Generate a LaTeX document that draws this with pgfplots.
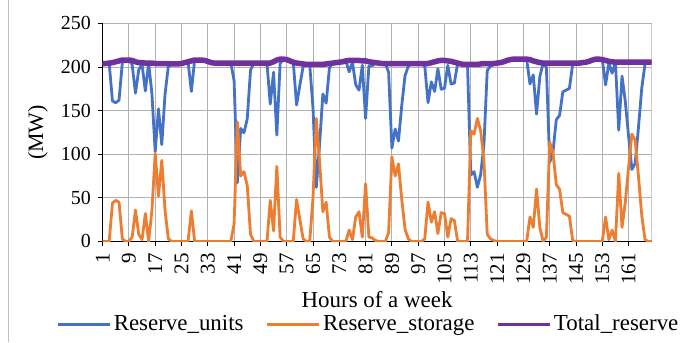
\documentclass[border=0pt]{standalone}
\usepackage{pgfplots}
\pgfplotsset{compat=1.18}
\usepackage{pgfplotstable}
\usepackage{fontspec}
\setmainfont{Liberation Serif}
\definecolor{cunits}{HTML}{4472C4}
\definecolor{cstor}{HTML}{ED7D31}
\definecolor{ctot}{HTML}{7030A0}
\pgfplotstableread{
h t s u
1 204 0 204
2 204 0 204
3 204.5 0 204.5
4 205 44 161
5 206 47 159
6 207 45 162
7 208 3 205
8 208 0 208
9 208 0 208
10 207.5 5 202.5
11 206 36 170
12 205 8 197
13 205 2 203
14 204.5 32 172.5
15 204.5 0 204.5
16 204.5 35 169.5
17 204 101 103
18 204 52 152
19 204 93 111
20 204 35 169
21 204 3 201
22 203.5 0 203.5
23 203.5 0 203.5
24 203.5 0 203.5
25 204 0 204
26 205 0 205
27 206 0 206
28 207 35 172
29 208 0 208
30 208 0 208
31 208 0 208
32 207.5 0 207.5
33 206.5 0 206.5
34 205 0 205
35 204.5 0 204.5
36 204.5 0 204.5
37 204.5 0 204.5
38 204.5 0 204.5
39 204.5 0 204.5
40 204.5 0 204.5
41 204.5 20 184.5
42 204.5 137 67.5
43 204.5 75 129.5
44 204.5 80 124.5
45 204.5 64 140.5
46 204.5 8 196.5
47 204.5 0 204.5
48 204.5 0 204.5
49 204.5 0 204.5
50 204.5 0 204.5
51 204.5 0 204.5
52 204.5 47 157.5
53 206 12 194
54 208 86 122
55 209 5 204
56 209 0 209
57 208.5 0 208.5
58 207 0 207
59 205.5 0 205.5
60 204.5 48 156.5
61 204 25 179
62 203.5 3 200.5
63 203 0 203
64 203 0 203
65 203 50 153
66 203 141 62
67 203 92 111
68 203 34 169
69 203.5 45 158.5
70 204 5 199
71 204.5 0 204.5
72 205 0 205
73 205.5 0 205.5
74 206 0 206
75 207 0 207
76 207.5 13 194.5
77 207.5 2 205.5
78 207.5 28 179.5
79 207.5 34 173.5
80 207 5 202
81 207 66 141
82 206 5 201
83 205.5 4 201.5
84 205 1 204
85 204.5 0 204.5
86 204 0 204
87 204 0 204
88 204 10 194
89 204 97 107
90 204 75 129
91 204 89 115
92 204 48 156
93 204 14 190
94 204 3 201
95 204 0 204
96 204 0 204
97 204 0 204
98 204 0 204
99 204 3 201
100 204 45 159
101 205 22 183
102 206 34 172
103 207 9 198
104 207.5 33 174.5
105 207.5 32 175.5
106 207 5 202
107 206.5 26 180.5
108 205.5 24 181.5
109 204.5 0 204.5
110 203.5 0 203.5
111 203 0 203
112 203 0 203
113 203 127 76
114 203 123 80
115 203 141 62
116 203.5 127 76.5
117 204 93 111
118 204 8 196
119 204 3 201
120 204 1 203
121 204.5 0 204.5
122 205 0 205
123 206 0 206
124 207.5 0 207.5
125 208.5 0 208.5
126 209 0 209
127 209 0 209
128 209 0 209
129 209 0 209
130 209 0 209
131 208.5 28 180.5
132 207 16 191
133 206 60 146
134 205 16 189
135 204.5 0 204.5
136 204.5 5 199.5
137 204.5 114 90.5
138 204.5 102 102.5
139 204.5 65 139.5
140 204.5 60 144.5
141 204.5 33 171.5
142 204.5 31 173.5
143 204.5 29 175.5
144 204.5 1 203.5
145 204.5 0 204.5
146 204.5 0 204.5
147 205 0 205
148 205.5 0 205.5
149 206.5 0 206.5
150 208 0 208
151 209 0 209
152 209 0 209
153 208.5 0 208.5
154 207.5 28 179.5
155 206.5 2 204.5
156 206 13 193
157 205.5 0 205.5
158 205.5 78 127.5
159 205.5 16 189.5
160 205.5 45 160.5
161 205.5 85 120.5
162 205.5 123 82.5
163 205.5 116 89.5
164 205.5 75 130.5
165 205.5 30 175.5
166 205.5 2 203.5
167 205.5 0 205.5
168 205.5 0 205.5
}\datatable
\begin{document}
\fontsize{20}{24}\selectfont
\begin{tikzpicture}
\path (-102.6bp,-101bp) rectangle (583.4bp,241bp);
\draw[black!25, line width=0.8bp] (-94.6bp,-101bp) -- (-94.6bp,241bp);
\begin{axis}[
  at={(0,0)}, anchor=south west,
  scale only axis, width=549bp, height=218bp,
  xmin=1, xmax=168, ymin=0, ymax=250,
  xtick={1,9,...,161}, ytick={0,50,...,250},
  axis lines=left, axis line style={-, black, line width=0.8bp},
  grid=major, major grid style={black!30, line width=0.8bp},
  tick align=outside, major tick length=5bp, tick style={black, line width=0.8bp},
  xticklabel style={rotate=90, anchor=east, font=\fontsize{21}{25}\selectfont},
  /pgf/number format/assume math mode=true,
  xlabel={Hours of a week}, ylabel={(MW)},
  xlabel style={font=\fontsize{23}{27}\selectfont, at={(axis description cs:0.5,-0.265)}, anchor=center},
  ylabel style={font=\fontsize{22}{26}\selectfont, at={(axis description cs:-0.118,0.5)}, anchor=center},
  legend columns=3,
  legend style={draw=none, fill=none, font=\fontsize{23}{27}\selectfont,
    at={(axis description cs:0.484,-0.381)}, anchor=center,
    /tikz/every even column/.append style={column sep=20bp}},
  legend image code/.code={\draw[#1, line width=3.5bp] (0bp,0bp) -- (52bp,0bp);},
  every axis plot/.append style={line join=round, mark=none},
]
\draw[black!30, line width=0.8bp] (rel axis cs:1,0) -- (rel axis cs:1,1);
\addplot[cunits, line width=2.8bp] table[x=h, y=u] {\datatable};
\addlegendentry{Reserve\_units}
\addplot[cstor, line width=2.8bp] table[x=h, y=s] {\datatable};
\addlegendentry{Reserve\_storage}
\addplot[ctot, line width=5.5bp] table[x=h, y=t] {\datatable};
\addlegendentry{Total\_reserve}
\end{axis}
\end{tikzpicture}
\end{document}
